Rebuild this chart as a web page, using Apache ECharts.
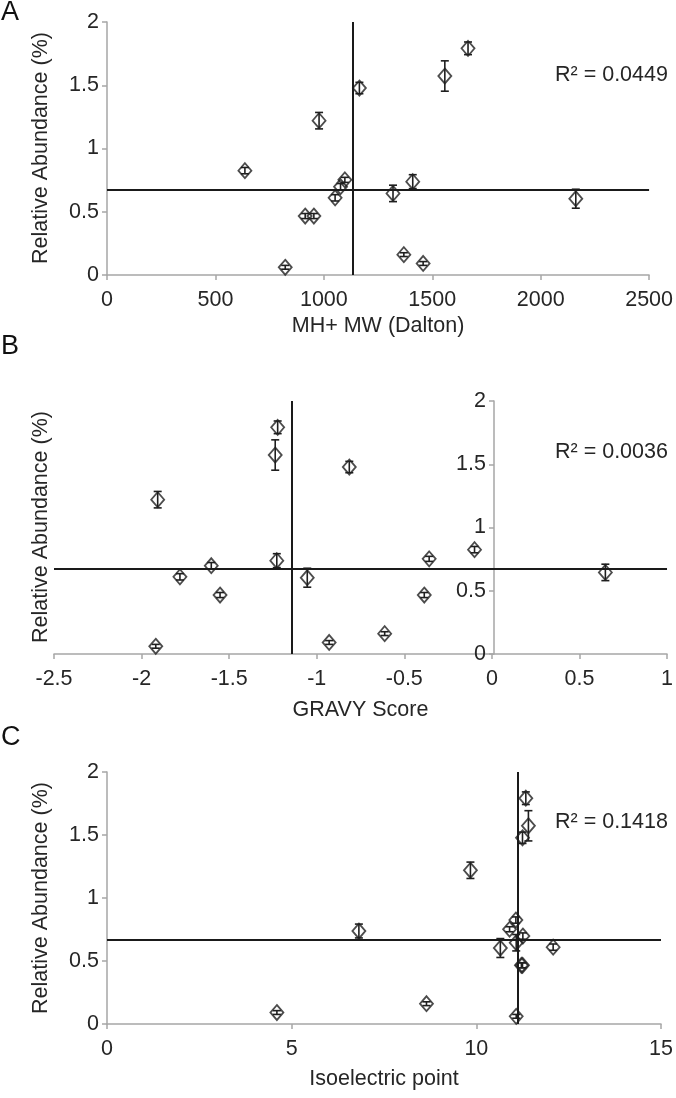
<!DOCTYPE html>
<html>
<head>
<meta charset="utf-8">
<script src="https://cdn.jsdelivr.net/npm/echarts@6/dist/echarts.min.js"></script>
<style>
html,body{margin:0;padding:0;background:#fff;}
#chart{width:676px;height:1098px;}
</style>
</head>
<body>
<div id="chart"></div>
<script>
// ---- data ----
const mw        = [636, 978, 1164, 1558, 1665, 2162, 1410, 1319, 1097, 1077, 1052, 914, 954, 822, 1369, 1458];
const gravy     = [-0.099, -1.908, -0.814, -1.237, -1.223, -1.054, -1.228, 0.648, -0.358, -1.602, -1.781, -1.552, -0.386, -1.919, -0.612, -0.929];
const pI        = [11.07, 9.84, 11.25, 11.41, 11.34, 10.65, 6.82, 11.08, 10.90, 11.26, 12.08, 11.25, 11.22, 11.08, 8.65, 4.60];
const abundance = [0.825, 1.220, 1.478, 1.573, 1.792, 0.603, 0.738, 0.645, 0.752, 0.698, 0.610, 0.466, 0.466, 0.061, 0.161, 0.091];
const errAbund  = [0.025, 0.065, 0.045, 0.12, 0.05, 0.075, 0.055, 0.065, 0.02, 0.025, 0.025, 0.02, 0.02, 0.015, 0.015, 0.015];

const refAbundance = 0.67;
const refX = [1133, -1.135, 11.11];
const r2Labels = ['R² = 0.0449', 'R² = 0.0036', 'R² = 0.1418'];
const panelLetters = ['A', 'B', 'C'];
const xTitles = ['MH+ MW (Dalton)', 'GRAVY Score', 'Isoelectric point'];
const yTitle = 'Relative Abundance (%)';
const xRanges = [[0, 2500, 500], [-2.5, 1, 0.5], [0, 15, 5]];
const yRange = [0, 2, 0.5];
const xValues = [mw, gravy, pI];

// ---- layout ----
const FONT = 'Liberation Sans';
const FS = 21.5;
const AXIS_COLOR = '#a6a6a6';
const TEXT_COLOR = '#262626';
const grids = [
  {left: 107, right: 26, top: 22, height: 253},
  {left: 54, right: 6, top: 401, height: 253},
  {left: 107, right: 15, top: 772, height: 252}
];
const yAxisOffsets = [0, -440, 0];
const xNameGaps = [40, 45, 44];
const yTitleCenters = [148, 527, 898];
const r2Y = [75, 452, 822];
const letterY = [13, 347, 738];

const chart = echarts.init(document.getElementById('chart'), null, {renderer: 'canvas'});

const xAxis = [], yAxis = [], series = [], graphic = [];
for (let i = 0; i < 3; i++) {
  xAxis.push({
    type: 'value', gridIndex: i,
    min: xRanges[i][0], max: xRanges[i][1], interval: xRanges[i][2],
    name: xTitles[i], nameLocation: 'middle', nameGap: xNameGaps[i],
    nameTextStyle: {fontFamily: FONT, fontSize: FS, color: TEXT_COLOR},
    axisLine: {show: true, lineStyle: {color: AXIS_COLOR, width: 1.5}},
    axisTick: {show: true, length: 5, inside: false, lineStyle: {color: AXIS_COLOR, width: 1.5}},
    axisLabel: {fontFamily: FONT, fontSize: FS, color: TEXT_COLOR, margin: 14, formatter: v => String(v)},
    splitLine: {show: false}
  });
  yAxis.push({
    type: 'value', gridIndex: i, position: 'left', offset: yAxisOffsets[i],
    min: yRange[0], max: yRange[1], interval: yRange[2],
    axisLine: {show: true, onZero: false, lineStyle: {color: AXIS_COLOR, width: 1.5}},
    axisTick: {show: true, length: 5, inside: false, lineStyle: {color: AXIS_COLOR, width: 1.5}},
    axisLabel: {fontFamily: FONT, fontSize: FS, color: TEXT_COLOR, margin: 8, formatter: v => String(v)},
    splitLine: {show: false}
  });

  const pts = xValues[i].map((x, k) => [x, abundance[k], errAbund[k]]);

  // reference lines
  series.push({
    type: 'line', xAxisIndex: i, yAxisIndex: i, data: [], silent: true,
    markLine: {
      silent: true, symbol: 'none', animation: false,
      label: {show: false},
      lineStyle: {color: '#1a1a1a', width: 2, type: 'solid'},
      data: [{yAxis: refAbundance}, {xAxis: refX[i]}]
    }
  });

  // error bars
  series.push({
    type: 'custom', xAxisIndex: i, yAxisIndex: i, data: pts, silent: true,
    encode: {x: 0, y: 1},
    renderItem: function (params, api) {
      const x = api.value(0), y = api.value(1), e = api.value(2);
      const t = api.coord([x, y + e]);
      const b = api.coord([x, y - e]);
      const h = 4;
      const st = {stroke: '#1f1f1f', lineWidth: 1.6};
      return {
        type: 'group',
        children: [
          {type: 'line', shape: {x1: t[0], y1: t[1], x2: b[0], y2: b[1]}, style: st},
          {type: 'line', shape: {x1: t[0] - h, y1: t[1], x2: t[0] + h, y2: t[1]}, style: st},
          {type: 'line', shape: {x1: b[0] - h, y1: b[1], x2: b[0] + h, y2: b[1]}, style: st}
        ]
      };
    },
    z: 3
  });

  // diamonds
  series.push({
    type: 'scatter', xAxisIndex: i, yAxisIndex: i, silent: true,
    data: pts.map(p => [p[0], p[1]]),
    symbol: 'diamond', symbolSize: [13, 15],
    itemStyle: {color: 'rgba(255,255,255,0)', borderColor: '#1f1f1f', borderWidth: 1.8},
    z: 4
  });

  graphic.push({
    type: 'text', x: 41, y: yTitleCenters[i], rotation: Math.PI / 2,
    style: {text: yTitle, font: FS + 'px ' + FONT, fill: TEXT_COLOR, textAlign: 'center', textVerticalAlign: 'middle'}
  });
  graphic.push({
    type: 'text', x: 555, y: r2Y[i],
    style: {text: r2Labels[i], font: FS + 'px ' + FONT, fill: TEXT_COLOR, textAlign: 'left', textVerticalAlign: 'middle'}
  });
  graphic.push({
    type: 'text', x: 1, y: letterY[i],
    style: {text: panelLetters[i], font: '27px ' + FONT, fill: '#111', textAlign: 'left', textVerticalAlign: 'middle'}
  });
}

chart.setOption({
  animation: false,
  backgroundColor: '#fff',
  grid: grids.map(g => Object.assign({containLabel: false}, g)),
  xAxis: xAxis,
  yAxis: yAxis,
  series: series,
  graphic: graphic
});
</script>
</body>
</html>
